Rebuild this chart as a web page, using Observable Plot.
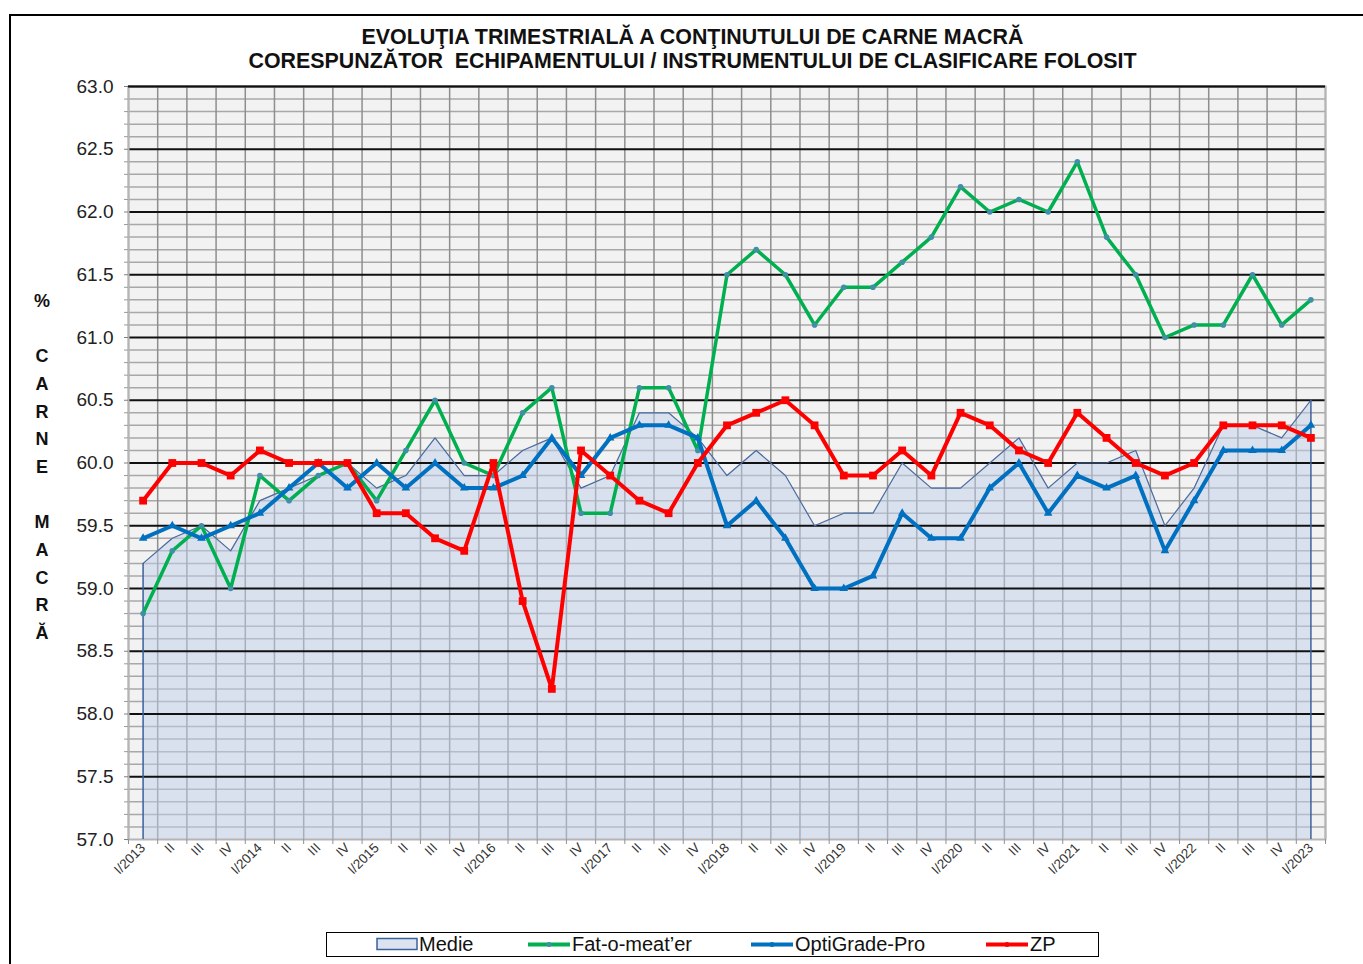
<!DOCTYPE html>
<html><head><meta charset="utf-8">
<script src="https://cdn.jsdelivr.net/npm/d3@7"></script>
<script src="https://cdn.jsdelivr.net/npm/@observablehq/plot@0.6"></script>
<style>
body{margin:0;background:#fff;font-family:"Liberation Sans",Arial,sans-serif;}
#wrap{position:relative;width:1363px;height:964px;overflow:hidden;background:#fff;}
#border{position:absolute;left:9px;top:14px;width:1400px;height:1000px;border:2px solid #000;box-sizing:border-box;}
#title{position:absolute;top:25px;left:0;width:1385px;text-align:center;font-weight:bold;font-size:21.4px;line-height:24px;color:#111;white-space:pre;}
#ylab{position:absolute;left:28px;top:288px;width:28px;text-align:center;font-weight:bold;font-size:18px;line-height:27.67px;color:#111;}
#chart{position:absolute;left:0;top:76px;}
#legend{position:absolute;left:326px;top:932px;width:773px;height:25px;border:1.5px solid #000;box-sizing:border-box;background:#fff;}
.li{position:absolute;top:0;height:22px;font-size:20px;line-height:22px;color:#111;white-space:nowrap;}
.li svg{position:absolute;top:0;left:0;}
.li span{position:absolute;top:0;}
</style>
</head><body>
<div id="wrap">
<div id="border"></div>
<div id="title">EVOLUŢIA TRIMESTRIALĂ A CONŢINUTULUI DE CARNE MACRĂ
CORESPUNZĂTOR  ECHIPAMENTULUI / INSTRUMENTULUI DE CLASIFICARE FOLOSIT</div>
<div id="ylab">%<br><br>C<br>A<br>R<br>N<br>E<br><br>M<br>A<br>C<br>R<br>Ă</div>
<div id="chart"></div>
<div id="legend"></div>
</div>
<script>
const labels = ["I/2013","II","III","IV","I/2014","II","III","IV","I/2015","II","III","IV","I/2016","II","III","IV","I/2017","II","III","IV","I/2018","II","III","IV","I/2019","II","III","IV","I/2020","II","III","IV","I/2021","II","III","IV","I/2022","II","III","IV","I/2023"];
const medie = [59.2,59.4,59.5,59.3,59.7,59.8,59.9,60.0,59.8,59.9,60.2,59.9,59.9,60.1,60.2,59.8,59.9,60.4,60.4,60.2,59.9,60.1,59.9,59.5,59.6,59.6,60.0,59.8,59.8,60.0,60.2,59.8,60.0,60.0,60.1,59.5,59.8,60.3,60.3,60.2,60.5];
const fatOMeater = [58.8,59.3,59.5,59.0,59.9,59.7,59.9,60.0,59.7,60.1,60.5,60.0,59.9,60.4,60.6,59.6,59.6,60.6,60.6,60.1,61.5,61.7,61.5,61.1,61.4,61.4,61.6,61.8,62.2,62.0,62.1,62.0,62.4,61.8,61.5,61.0,61.1,61.1,61.5,61.1,61.3];
const optiGrade = [59.4,59.5,59.4,59.5,59.6,59.8,60.0,59.8,60.0,59.8,60.0,59.8,59.8,59.9,60.2,59.9,60.2,60.3,60.3,60.2,59.5,59.7,59.4,59.0,59.0,59.1,59.6,59.4,59.4,59.8,60.0,59.6,59.9,59.8,59.9,59.3,59.7,60.1,60.1,60.1,60.3];
const zp = [59.7,60.0,60.0,59.9,60.1,60.0,60.0,60.0,59.6,59.6,59.4,59.3,60.0,58.9,58.2,60.1,59.9,59.7,59.6,60.0,60.3,60.4,60.5,60.3,59.9,59.9,60.1,59.9,60.4,60.3,60.1,60.0,60.4,60.2,60.0,59.9,60.0,60.3,60.3,60.3,60.2];
const yTicks = [57.0,57.5,58.0,58.5,59.0,59.5,60.0,60.5,61.0,61.5,62.0,62.5,63.0];
const seriesNames = ["Medie","Fat-o-meat’er","OptiGrade-Pro","ZP"];

const rows = labels.map((q, i) => ({i, q, medie: medie[i], fat: fatOMeater[i], opti: optiGrade[i], zp: zp[i]}));
const idx = d3.range(labels.length);
const bounds = d3.range(labels.length + 1).map(k => k - 0.5);
const minor = d3.range(570, 631).filter(v => v % 5 !== 0).map(v => v / 10);
const major = yTicks.filter(v => v > 57);

const chart = Plot.plot({
  width: 1363, height: 840,
  marginTop: 10, marginLeft: 128, marginRight: 38, marginBottom: 77,
  x: {type: "linear", domain: [-0.5, labels.length - 0.5], axis: null, label: null},
  y: {domain: [57, 63], axis: null, label: null},
  style: {fontFamily: "'Liberation Sans', Arial, sans-serif", background: "transparent", overflow: "visible"},
  marks: [
    Plot.frame({fill: "#f2f2f2"}),
    Plot.ruleY(minor, {stroke: "#a8a8a8", strokeWidth: 1.5}),
    Plot.ruleX(bounds, {stroke: "#8e8e8e", strokeWidth: 1.5}),
    Plot.areaY(rows, {x: "i", y1: 57, y2: "medie", fill: "rgb(194,208,234)", fillOpacity: 0.5}),
    Plot.ruleY(major, {stroke: "#111", strokeWidth: 2.2}),
    Plot.frame({stroke: "#b5b5b5", strokeWidth: 2}),
    Plot.ruleY([63], {stroke: "#111", strokeWidth: 2.2}),
    Plot.line(rows, {x: "i", y: "medie", stroke: "#4a6a9c", strokeWidth: 1.2}),
    Plot.ruleX([rows[0], rows[rows.length - 1]], {x: "i", y1: 57, y2: "medie", stroke: "#3d609a", strokeWidth: 1.5}),
    Plot.line(rows, {x: "i", y: "fat", stroke: "#00b050", strokeWidth: 3.5}),
    Plot.dot(rows, {x: "i", y: "fat", r: 2.8, fill: "#3f8fa6", stroke: "none"}),
    Plot.line(rows, {x: "i", y: "opti", stroke: "#0070c0", strokeWidth: 4}),
    Plot.dot(rows, {x: "i", y: "opti", symbol: "triangle", r: 3.2, fill: "#0070c0", stroke: "none"}),
    Plot.line(rows, {x: "i", y: "zp", stroke: "#ff0000", strokeWidth: 4}),
    Plot.dot(rows, {x: "i", y: "zp", symbol: "square", r: 4.4, fill: "#ff0000", stroke: "none"}),
    Plot.axisY(major.concat([57]), {tickFormat: d => d.toFixed(1), tickSize: 4, tickPadding: 11, fontSize: 19, fill: "#222", stroke: "#808080", label: null}),
    Plot.axisY(minor, {tickFormat: () => "", tickSize: 4, stroke: "#9a9a9a", label: null}),
    Plot.axisX(bounds, {tickFormat: () => "", tickSize: 5, stroke: "#909090", label: null}),
    Plot.axisX(idx, {tickFormat: i => labels[i], tickRotate: -45, tickSize: 0, tickPadding: 6, fontSize: 13.5, fill: "#333", label: null})
  ]
});
document.getElementById("chart").appendChild(chart);

// legend
const legend = document.getElementById("legend");
const items = [
  {name: seriesNames[0], left: 49, kind: "area"},
  {name: seriesNames[1], left: 200, kind: "line", color: "#00b050", marker: "#3f8fa6"},
  {name: seriesNames[2], left: 423, kind: "line", color: "#0070c0", marker: "#0070c0"},
  {name: seriesNames[3], left: 658, kind: "line", color: "#ff0000", marker: "#ff0000"}
];
for (const it of items) {
  const d = document.createElement("div");
  d.className = "li";
  d.style.left = it.left + "px";
  let sw;
  if (it.kind === "area") {
    sw = `<svg width="44" height="22"><rect x="1" y="5.5" width="40" height="11" fill="#dbe3f1" stroke="#3d609a" stroke-width="1.5"/></svg>`;
  } else {
    sw = `<svg width="44" height="22"><line x1="1" x2="43" y1="11.5" y2="11.5" stroke="${it.color}" stroke-width="4"/><circle cx="22" cy="11.5" r="2.5" fill="${it.marker}"/></svg>`;
  }
  d.innerHTML = sw + `<span style="left:${it.kind === "area" ? 43 : 45}px">${it.name}</span>`;
  legend.appendChild(d);
}
</script>
</body></html>
